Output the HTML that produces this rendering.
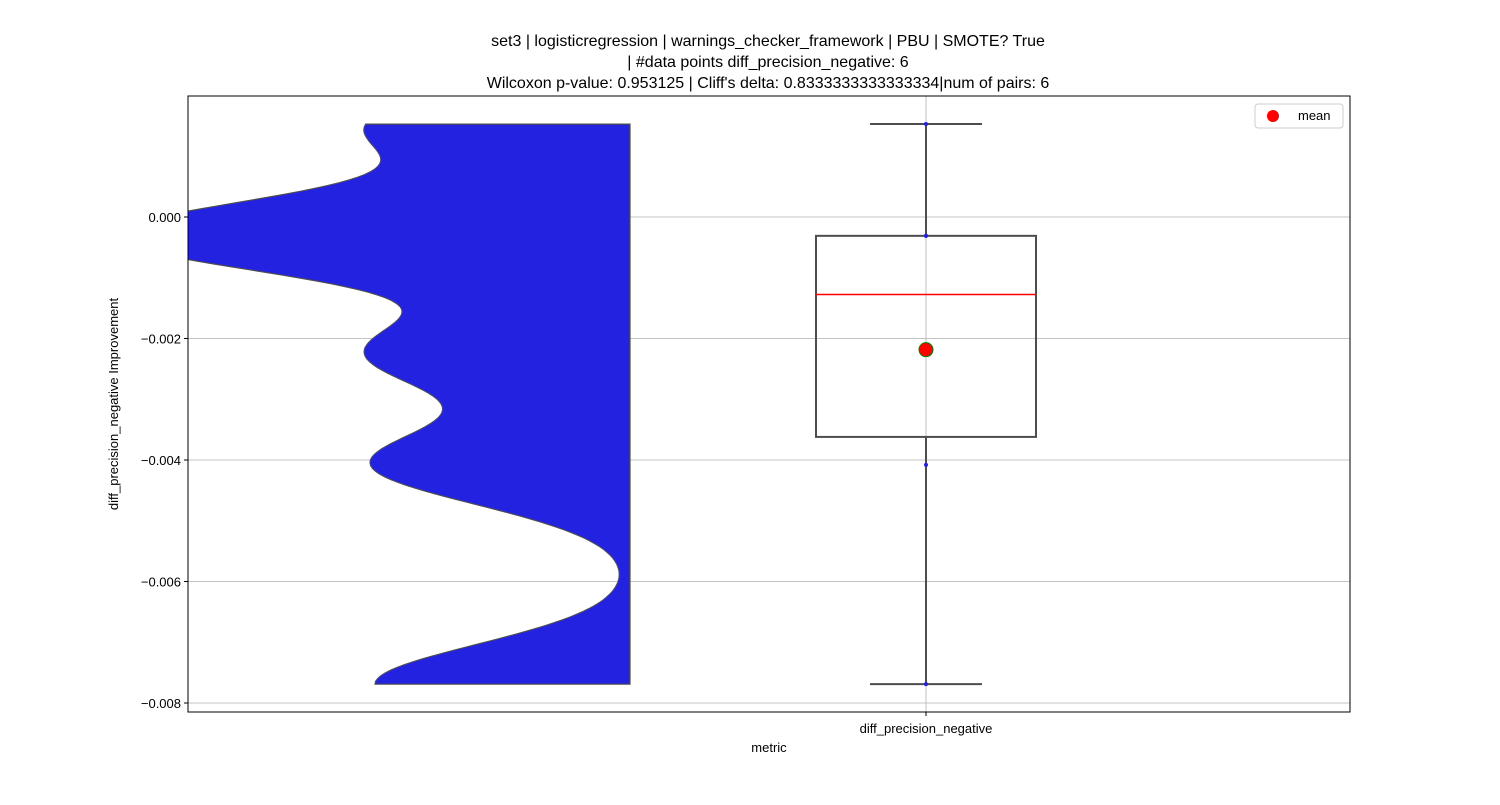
<!DOCTYPE html>
<html><head><meta charset="utf-8"><style>
body{margin:0;background:#fff}
svg text{font-family:"Liberation Sans",sans-serif;fill:#000}
</style></head><body>
<svg id="chartsvg" width="1500" height="800" xmlns="http://www.w3.org/2000/svg">
<g font-size="16" text-anchor="middle">
<text x="768" y="46">set3 | logisticregression | warnings_checker_framework | PBU | SMOTE? True</text>
<text x="768" y="67">| #data points diff_precision_negative: 6</text>
<text x="768" y="88">Wilcoxon p-value: 0.953125 | Cliff's delta: 0.8333333333333334|num of pairs: 6</text>
</g>
<defs><clipPath id="plotclip"><rect x="188" y="96" width="1162" height="616"/></clipPath></defs>
<g id="gridlayer"></g>
<g id="marklayer" clip-path="url(#plotclip)"></g>
<rect x="188" y="96" width="1162" height="616" fill="none" stroke="#000" stroke-width="1"/>
<g id="ytlayer" font-size="13" text-anchor="end"></g>
<text x="926" y="733" font-size="13" text-anchor="middle">diff_precision_negative</text>
<line x1="926" y1="712" x2="926" y2="716" stroke="#000"/>
<text x="769" y="752" font-size="13" text-anchor="middle">metric</text>
<text transform="translate(118,404) rotate(-90)" font-size="13" text-anchor="middle">diff_precision_negative Improvement</text>
<g>
<rect x="1255" y="104" width="88" height="24" rx="3" fill="#fff" stroke="#ccc"/>
<circle cx="1273" cy="116" r="6" fill="red"/>
<text x="1298" y="120" font-size="13">mean</text>
</g>
</svg>
<script>
var diffPrecisionValues=[0.00153,-0.00031,-0.00031,-0.00224,-0.00408,-0.00769];
var yTickValues=[0,-0.002,-0.004,-0.006,-0.008];
var yTickLabelTexts=["0.000","\u22120.002","\u22120.004","\u22120.006","\u22120.008"];
var kdeBandwidth=0.00065;
function drawChartAll(){
 var NSv="http://www.w3.org/2000/svg";
 function yScale(v){return 217-(v/0.002)*121.5;}
 function mk(tag,attrs,parent){var e=document.createElementNS(NSv,tag);for(var k in attrs)e.setAttribute(k,attrs[k]);parent.appendChild(e);return e;}
 var gridL=document.getElementById('gridlayer'),markL=document.getElementById('marklayer'),ytL=document.getElementById('ytlayer');
 yTickValues.forEach(function(t,i){
  var g=mk('line',{x1:188,x2:1350,y1:yScale(t),y2:yScale(t),stroke:'#b0b0b0','stroke-width':0.8},gridL);
  
  
  var tk=mk('line',{x1:184,x2:188,y1:yScale(t),y2:yScale(t),stroke:'#000'},ytL);
  
  
  var tx=mk('text',{x:181,y:yScale(t)+5},ytL);
  tx.textContent=yTickLabelTexts[i];
  
  
 });
 var vg=mk('line',{x1:926,x2:926,y1:96,y2:712,stroke:'#b0b0b0','stroke-width':0.8},gridL);
 
 
 var vals=diffPrecisionValues;
 var vmax=Math.max.apply(null,vals),vmin=Math.min.apply(null,vals);
 function dens(v){var s=0;for(var j=0;j<vals.length;j++){var z=(v-vals[j])/kdeBandwidth;s+=Math.exp(-z*z/2);}return s;}
 var pathD='M630,'+yScale(vmax).toFixed(1);
 var N=200;
 for(var i=0;i<=N;i++){var v=vmax-(vmax-vmin)*i/N;pathD+=' L'+(630-255*dens(v)).toFixed(1)+','+yScale(v).toFixed(1);}
 pathD+=' L630,'+yScale(vmin).toFixed(1)+' Z';
 var vio=mk('path',{d:pathD,fill:'#2222e0',stroke:'#4d4d4d','stroke-width':1.2},markL);
 
 
 var srt=vals.slice().sort(function(a,b){return a-b;});
 function quant(p){var idx=p*(srt.length-1),lo=Math.floor(idx),hi=Math.ceil(idx);return srt[lo]+(srt[hi]-srt[lo])*(idx-lo);}
 var q1=quant(0.25),q3=quant(0.75),med=quant(0.5);
 var mean=vals.reduce(function(a,b){return a+b;},0)/vals.length;
 var iqr=q3-q1;
 var wHi=Math.max.apply(null,srt.filter(function(v){return v<=q3+1.5*iqr;}));
 var wLo=Math.min.apply(null,srt.filter(function(v){return v>=q1-1.5*iqr;}));
 function st(o){o.stroke='#4d4d4d';o['stroke-width']=2;return o;}
 var w1=mk('line',st({x1:926,x2:926,y1:yScale(wHi),y2:yScale(q3)}),markL);
 
 
 var w2=mk('line',st({x1:926,x2:926,y1:yScale(q1),y2:yScale(wLo)}),markL);
 
 
 var c1=mk('line',st({x1:870,x2:982,y1:yScale(wHi),y2:yScale(wHi)}),markL);
 
 
 var c2=mk('line',st({x1:870,x2:982,y1:yScale(wLo),y2:yScale(wLo)}),markL);
 
 
 var bx=mk('rect',st({x:816,width:220,y:yScale(q3),height:yScale(q1)-yScale(q3),fill:'none'}),markL);
 
 
 var md=mk('line',{x1:816,x2:1036,y1:yScale(med),y2:yScale(med),stroke:'red','stroke-width':1.5},markL);
 
 
 vals.forEach(function(v){
  var c=mk('circle',{cx:926,cy:yScale(v),r:2,fill:'#2222e0'},markL);
  
  
 });
 var mm=mk('circle',{cx:926,cy:yScale(mean),r:7,fill:'red',stroke:'green','stroke-width':1},markL);
 
 
}
drawChartAll();
</script>
</body></html>
